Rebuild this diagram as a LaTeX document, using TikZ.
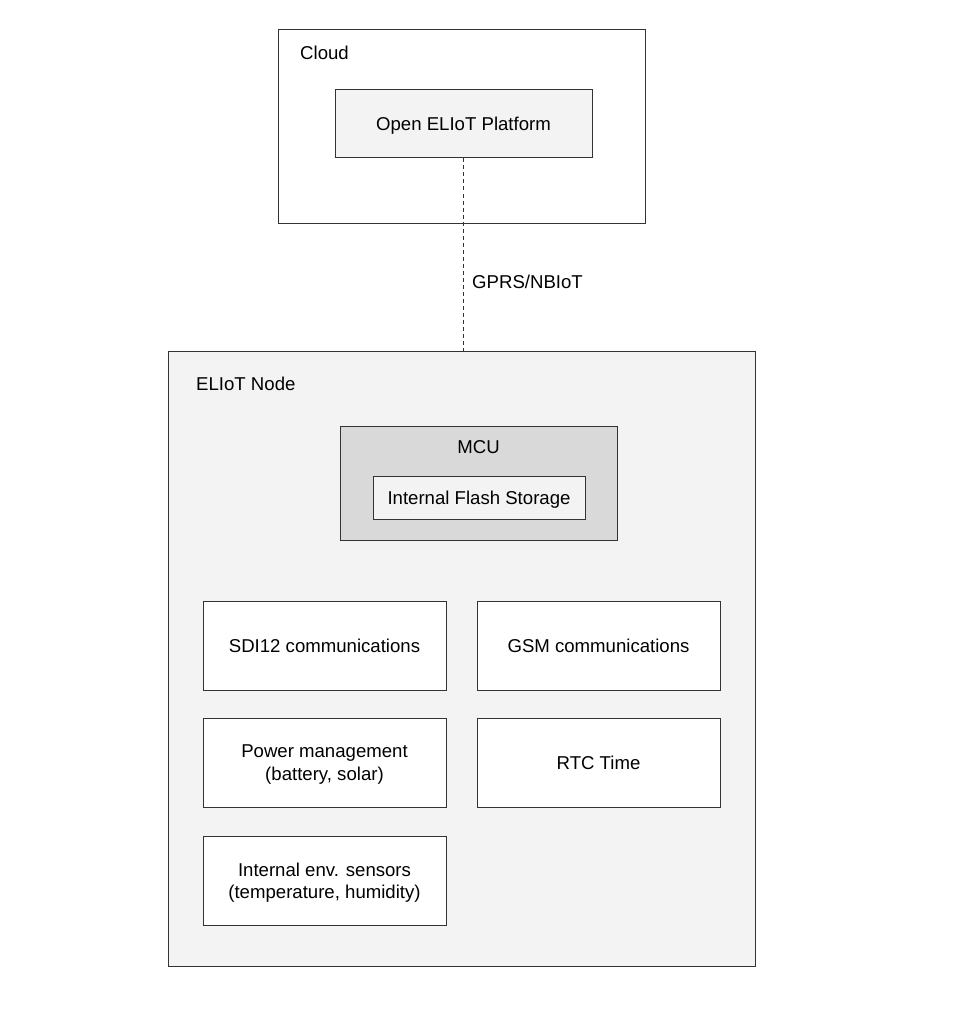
\documentclass[tikz,border=0pt]{standalone}
\usepackage{fontspec}
\setmainfont{Liberation Sans}
\definecolor{edge}{HTML}{333333}
\definecolor{lightfill}{HTML}{F3F3F3}
\definecolor{midfill}{HTML}{D9D9D9}
\begin{document}
\begin{tikzpicture}[x=1pt,y=-1pt,
  box/.style={draw=edge,line width=1pt,fill=white,inner sep=0pt,align=center,text depth=0pt,font=\fontsize{18.6}{22.5}\selectfont},
  lbl/.style={inner sep=0pt,font=\fontsize{18.6}{22.5}\selectfont},
  link/.style={draw=edge,line width=1pt,dash pattern=on 4pt off 3pt}]
\useasboundingbox (0,0) rectangle (958,1019);
% containers
\node[box,minimum width=367pt,minimum height=193pt] (cloud) at (461.5,126.5) {};
\node[box,fill=lightfill,minimum width=587pt,minimum height=615pt] (eliot) at (461.5,658.5) {};
\node[lbl,anchor=west] (cloudlbl) at (300,53) {Cloud};
\node[lbl,anchor=west] (eliotlbl) at (196,384) {ELIoT Node};
% platform
\node[box,fill=lightfill,minimum width=257pt,minimum height=68pt] (platform) at (463.5,124) {Open ELIoT Platform};
% link
\draw[link] (platform.south) -- (platform.south |- eliot.north);
\node[lbl,anchor=west] (gprs) at (472,282) {GPRS/NBIoT};
% MCU
\node[box,fill=midfill,minimum width=277pt,minimum height=114pt] (mcu) at (478.5,483) {};
\node[lbl] (mculbl) at (478.5,447) {MCU};
\node[box,fill=lightfill,minimum width=212pt,minimum height=43pt] (flash) at (479,497.5) {Internal Flash Storage};
% modules
\node[box,minimum width=243pt,minimum height=89pt] (sdi) at (324.5,645.5) {SDI12 communications};
\node[box,minimum width=243pt,minimum height=89pt] (gsm) at (598.5,645.5) {GSM communications};
\node[box,minimum width=243pt,minimum height=89pt] (power) at (324.5,762.5) {Power management\\(battery, solar)};
\node[box,minimum width=243pt,minimum height=89pt] (rtc) at (598.5,762.5) {RTC Time};
\node[box,minimum width=243pt,minimum height=89pt] (env) at (324.5,880.5) {Internal env. sensors\\(temperature, humidity)};
\end{tikzpicture}
\end{document}
